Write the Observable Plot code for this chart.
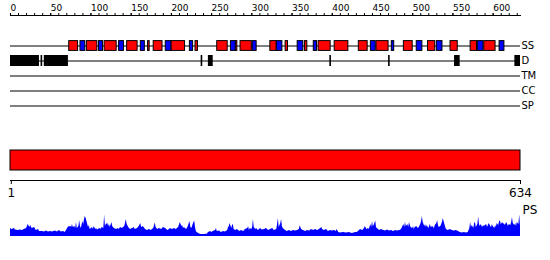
<!DOCTYPE html>
<html><head><meta charset="utf-8">
<script src="https://cdn.jsdelivr.net/npm/d3@7"></script>
<script src="https://cdn.jsdelivr.net/npm/@observablehq/plot@0.6"></script>
<style>body{margin:0;background:#fff} #chart svg{display:block}</style>
</head><body><div id="chart"></div>
<script>
const seqLength = 634;
const trackNames = ["SS", "D", "TM", "CC", "SP"];
const topTickLabels = [0, 50, 100, 150, 200, 250, 300, 350, 400, 450, 500, 550, 600];
const topMinorTicks = [0,10,20,30,40,50,60,70,80,90,100,110,120,130,140,150,160,170,180,190,200,210,220,230,240,250,260,270,280,290,300,310,320,330,340,350,360,370,380,390,400,410,420,430,440,450,460,470,480,490,500,510,520,530,540,550,560,570,580,590,600,610,620,630];
const bottomTicks = [1, 634];

// secondary structure: helices (red) and strands (blue), [start, end]
const helices = [[74,84],[96,108],[118,132],[146,158],[172,173],[179,189],[201,217],[231,233],[258,270],[281,282],[287,300],[324,331],[343,345],[367,369],[384,398],[404,420],[434,444],[456,470],[490,500],[520,528],[548,556],[573,580],[590,603]];
const strands = [[88,93],[111,115],[136,141],[163,167],[194,200],[224,227],[275,280],[302,306],[332,338],[358,364],[378,381],[449,454],[475,477],[506,512],[531,537],[582,588],[609,614]];
// disordered regions
const disorder = [[1,36],[39,40],[43,72],[238,239],[247,252],[398,399],[471,472],[553,559],[628,634]];
// domain bar
const domains = [[1,634]];

// PS profile
const psPos = [0,2,5,6,10,12,15,17,20,22,24,25,27,30,32,35,36,40,42,45,47,50,52,56,58,61,63,66,68,71,72,75,76,77,78,80,81,82,83,85,86,87,88,90,91,92,93,94,96,97,98,99,102,103,104,106,107,108,111,112,114,116,117,118,119,121,122,123,124,126,127,128,129,132,134,135,137,139,142,144,145,147,149,152,154,155,158,160,162,163,165,167,168,170,173,175,178,180,181,183,185,188,190,193,194,196,199,201,204,206,209,211,213,214,215,216,219,221,223,224,225,226,227,229,230,231,232,235,237,240,242,245,246,249,250,252,255,256,257,260,262,265,267,270,271,272,273,275,276,277,278,280,282,285,287,290,292,295,296,297,298,300,301,302,303,305,306,308,311,313,316,318,321,323,326,328,331,332,333,334,336,337,338,339,342,344,347,349,352,354,357,359,360,362,364,367,369,372,374,377,379,382,384,387,388,390,393,395,398,400,403,405,406,408,410,414,418,421,425,429,431,434,435,438,440,441,443,445,446,448,449,450,451,452,454,455,456,459,461,464,466,469,471,474,476,479,481,484,486,489,490,491,492,494,495,496,497,498,500,501,502,503,505,507,508,510,511,512,513,515,516,517,518,520,521,522,523,525,527,528,530,531,532,533,535,536,537,538,540,541,542,544,547,549,552,554,557,559,562,564,567,569,571,572,573,574,576,577,578,579,581,582,583,584,585,587,588,589,592,593,594,595,597,598,599,600,602,603,604,605,607,608,609,610,612,613,614,615,617,618,619,620,622,623,624,625,627,628,629,630,632,633,634];
const psVal = [8,7,8,6.5,6,6.5,6,7,8,12,9,11,8,9,6,7,5,5,4.5,5.5,4.5,5,4.5,5.5,4.5,6,4.5,5,4,8,9.5,10,9,12,9,10,8,14,8,10,16,10,8,15,12,17,20,18,12,9,11,7,9,7,10,7,8,6.5,8,7,9,8,21.5,10,12,13,10,12,9,14,10,9,8,7,8,7,9,8,10,17,12,9,7,8,9,7,8,10,13,9,10,8,7,6,7,6,8,13.5,9,7,8,7,9,8,7,6,8,7,8,7,9,14,10,11,8,9,7,10,15,10,8,9,12,15.5,9,5,4,2.5,2,2,2,2.5,4,5,4,5,6,8,5,5.5,4,5,4.5,6,9,10,13,8,11,12,7,6,7,5,6,5,7,8,10,6,8,7,9,17,9,7,8,6,8,6.5,7,8,6,7,8,6,7,12,18,9,13,17,10,8,6,5,6,5,6,5.5,6,7,10.5,7,6,5,6,5.5,7,6,7,6,7,9,7,6,7,5,6,5.5,6,5,7,4,3.5,4,3.5,4,3,4,4,6,7,6,8,10,7,8,7,12,9,15,10,11,15.5,9,8,6,7,6,5.5,6.5,5.5,6,5,6,5.5,6,7,12,9,14,10,12,9,14,11,9,8,10,7,9,10,8,9,12,15,20,14,10,12,9,11,8,10,12,9,10,8,11,13,16,11,9,10,12,14,18,12,9,7,6,7,6,5.5,6,5,4,3.5,4,3.5,4,8,14,9,11,8,13,14,9,12,19.5,12,10,12,9,11,10,12,9,11,13,10,9,12,10,8,11,9,13,11,15,15.5,12,14,12,13,11,14,12,10,12,11,14,19,13,11,13,10,14,12,21.5,10];

const ps = psPos.map((p, i) => ({pos: p, val: psVal[i]}));
const xScale = {domain: [0, seqLength], range: [10, 520], axis: null};
const baseStyle = {fontFamily: "DejaVu Sans", fontSize: "10px", background: "white", color: "black", overflow: "visible"};
const common = {width: 550, marginLeft: 10, marginRight: 30, style: baseStyle};

const tracksPlot = Plot.plot({
  ...common, height: 115, marginTop: 15, marginBottom: 0,
  x: xScale,
  y: {type: "band", domain: trackNames, range: [37.5, 113.75], padding: 0, axis: null},
  marks: [
    Plot.frame({anchor: "top"}),
    Plot.axisX({anchor: "top", ticks: topMinorTicks, tickSize: 3, tickFormat: () => ""}),
    Plot.axisX({anchor: "top", ticks: topTickLabels, tickSize: 3, tickPadding: 2, textAnchor: "start", fontSize: 9}),
    Plot.ruleY(trackNames, {y: d => d, x1: () => 0, x2: () => seqLength, stroke: "black"}),
    Plot.barX(disorder, {x1: d => d[0] - 1, x2: d => d[1], y: () => "D", fill: "black", insetTop: 2, insetBottom: 2}),
    Plot.barX(helices, {x1: d => d[0] - 1, x2: d => d[1], y: () => "SS", fill: "#ff0000", stroke: "black", insetTop: 2.6, insetBottom: 2.6}),
    Plot.barX(strands, {x1: d => d[0] - 1, x2: d => d[1], y: () => "SS", fill: "#0000ff", stroke: "black", insetTop: 2.6, insetBottom: 2.6}),
    Plot.axisY({anchor: "right", tickSize: 0, tickPadding: 1, fontSize: 10})
  ]
});

const domainPlot = Plot.plot({
  ...common, height: 88, marginTop: 35, marginBottom: 23,
  x: xScale,
  marks: [
    Plot.rect(domains, {x1: d => d[0] - 1, x2: d => d[1], fill: "#ff0000", stroke: "black", insetBottom: 10}),
    Plot.frame({anchor: "bottom"}),
    Plot.axisX({anchor: "bottom", ticks: bottomTicks, tickSize: 4, tickPadding: 4, fontSize: 12})
  ]
});

const psPlot = Plot.plot({
  ...common, height: 57, marginTop: 11, marginBottom: 24,
  x: xScale,
  y: {domain: [0, 22], axis: null},
  marks: [
    Plot.areaY(ps, {x: "pos", y: "val", fill: "#0000ff"}),
    Plot.text(["PS"], {frameAnchor: "top-right", text: d => d, textAnchor: "start", lineAnchor: "middle", dx: 2, dy: -4, fontSize: 12})
  ]
});

const chart = document.getElementById("chart");
chart.append(tracksPlot, domainPlot, psPlot);
</script>
</body></html>
